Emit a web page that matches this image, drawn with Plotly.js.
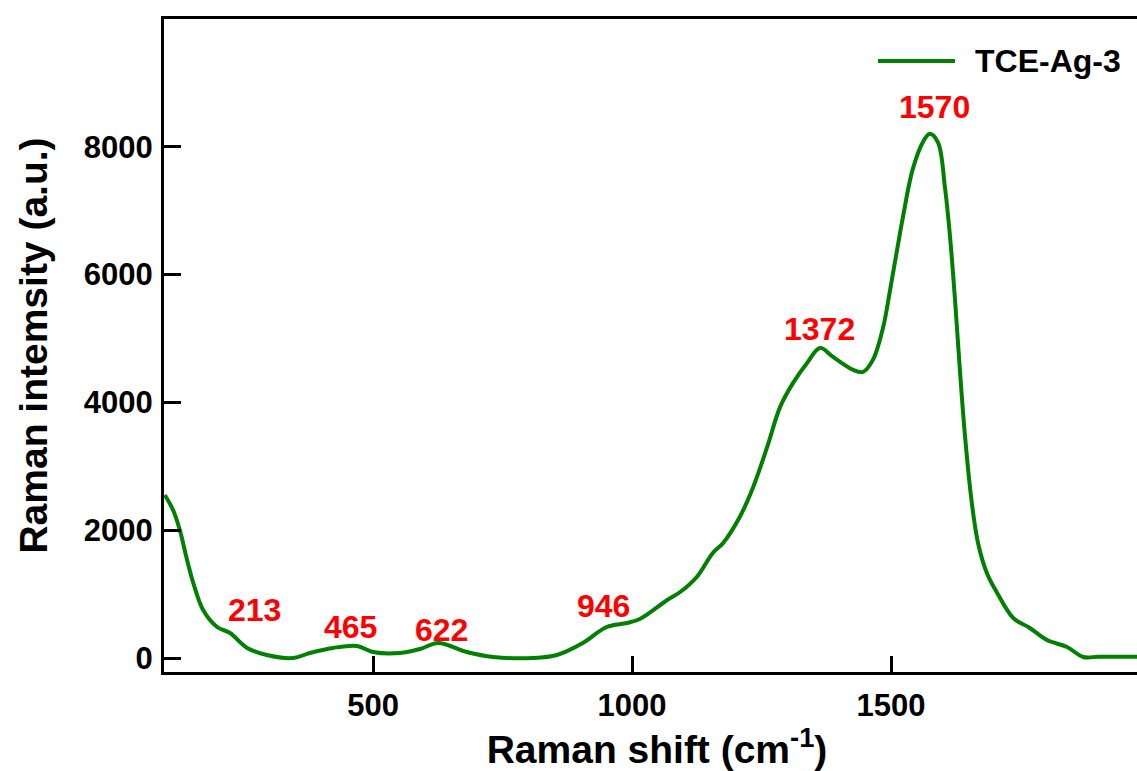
<!DOCTYPE html>
<html>
<head>
<meta charset="utf-8">
<script src="https://cdn.plot.ly/plotly-3.0.1.min.js"></script>
<style>
html, body { margin:0; padding:0; overflow:hidden; background:#fff; }
#chart { width:1160px; height:771px; }
</style>
</head>
<body>
<div id="chart"></div>
<script>
// Raman shift (cm^-1)
const ramanShift = [98, 114, 127, 141, 153, 172, 199, 224, 257, 295, 346, 378, 423, 469, 500, 552, 591, 626, 681, 732, 809, 855, 905, 951, 990, 1015, 1068, 1093, 1125, 1156, 1176, 1208, 1234, 1261, 1286, 1311, 1338, 1363, 1388, 1427, 1446, 1465, 1485, 1498, 1512, 1523, 1542, 1562, 1575, 1591, 1604, 1614, 1624, 1633, 1643, 1656, 1668, 1685, 1705, 1736, 1768, 1801, 1840, 1871, 1900, 1929, 1975, 2000];
// Raman intensity (a.u.)
const intensity = [2552, 2317, 2004, 1534, 1174, 751, 485, 391, 157, 47, 0, 78, 157, 188, 94, 78, 141, 235, 94, 16, 0, 47, 235, 485, 548, 610, 908, 1033, 1268, 1644, 1800, 2207, 2677, 3303, 3930, 4305, 4618, 4853, 4712, 4509, 4478, 4665, 5182, 5750, 6400, 6900, 7650, 8080, 8204, 8063, 7374, 6591, 5558, 4509, 3460, 2427, 1800, 1331, 1018, 626, 470, 282, 172, 16, 20, 20, 20, 20];
const seriesName = "TCE-Ag-3";
// Peak labels
const peakLabels = ["213", "465", "622", "946", "1372", "1570"];
const peakLabelX = [272, 456, 633, 944, 1361, 1583];
const peakLabelY = [751, 485, 438, 814, 5151, 8626];
const xTicks = [500, 1000, 1500];
const yTicks = [0, 2000, 4000, 6000, 8000];

const fontFam = '"Liberation Sans", Arial, sans-serif';

const trace = {
  x: ramanShift, y: intensity, type: 'scatter', mode: 'lines',
  name: seriesName, showlegend: false,
  line: {color: '#008000', width: 4, shape: 'spline', smoothing: 1.0}
};

const annotations = peakLabels.map((t, i) => ({
  x: peakLabelX[i], y: peakLabelY[i], xref: 'x', yref: 'y',
  text: '<b>' + t + '</b>', showarrow: false,
  xanchor: 'center', yanchor: 'middle',
  font: {family: fontFam, size: 32, color: '#ff0000'}
}));
annotations.push({
  x: 0.8205, y: 0.9357, xref: 'paper', yref: 'paper',
  text: '<b>' + seriesName + '</b>', showarrow: false,
  xanchor: 'left', yanchor: 'middle',
  font: {family: fontFam, size: 32, color: '#000'}
});

const layout = {
  width: 1160, height: 771,
  margin: {l: 164, r: 10, t: 19, b: 99},
  paper_bgcolor: '#fff', plot_bgcolor: '#fff',
  showlegend: false,
  font: {family: fontFam, color: '#000'},
  xaxis: {
    range: [96.5, 2000], tickvals: xTicks, ticktext: xTicks.map(String),
    ticks: 'inside', ticklen: 16, tickwidth: 3, tickcolor: '#000',
    showline: true, linewidth: 3, linecolor: '#000', mirror: true,
    showgrid: false, zeroline: false,
    tickfont: {family: fontFam, size: 31, color: '#000', weight: 'bold'},
    ticklabelstandoff: 4,
    title: {text: '<b>Raman shift (cm<sup>-1</sup>)</b>', font: {family: fontFam, size: 39, color: '#000'}, standoff: 6}
  },
  yaxis: {
    range: [-219, 10000], tickvals: yTicks, ticktext: yTicks.map(String),
    ticks: 'inside', ticklen: 17, tickwidth: 3, tickcolor: '#000',
    showline: true, linewidth: 3, linecolor: '#000', mirror: true,
    showgrid: false, zeroline: false,
    tickfont: {family: fontFam, size: 31, color: '#000', weight: 'bold'},
    ticklabelstandoff: 2,
    title: {text: '<b>Raman intemsity (a.u.)</b>', font: {family: fontFam, size: 39, color: '#000'}, standoff: 25}
  },
  shapes: [{
    type: 'line', xref: 'paper', yref: 'paper',
    x0: 0.7241, x1: 0.8022, y0: 0.9357, y1: 0.9357,
    line: {color: '#008000', width: 4}
  }],
  annotations: annotations
};

Plotly.newPlot('chart', [trace], layout, {displayModeBar: false, staticPlot: true});
</script>
</body>
</html>
